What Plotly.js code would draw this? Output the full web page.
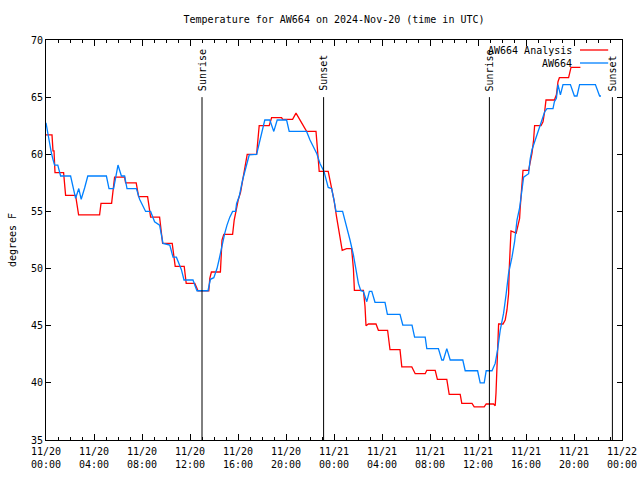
<!DOCTYPE html>
<html>
<head>
<meta charset="utf-8">
<script src="https://cdn.plot.ly/plotly-3.0.1.min.js"></script>
<style>html,body{margin:0;padding:0;background:#fff;}</style>
</head>
<body>
<div id="chart" style="width:640px;height:480px;"></div>
<script>
// ---- data ----
const redName = 'AW664 Analysis';
const redTime = [
'2024-11-20 00:00','2024-11-20 00:30','2024-11-20 00:35','2024-11-20 00:40','2024-11-20 00:45','2024-11-20 01:28',
'2024-11-20 01:38','2024-11-20 02:28','2024-11-20 02:43','2024-11-20 04:28','2024-11-20 04:35','2024-11-20 05:28',
'2024-11-20 05:43','2024-11-20 06:33','2024-11-20 06:38','2024-11-20 07:31','2024-11-20 07:43','2024-11-20 08:28',
'2024-11-20 08:43','2024-11-20 09:28','2024-11-20 09:43','2024-11-20 10:31','2024-11-20 10:46','2024-11-20 11:31',
'2024-11-20 11:41','2024-11-20 12:24','2024-11-20 12:40','2024-11-20 13:34','2024-11-20 13:39','2024-11-20 13:47',
'2024-11-20 14:32','2024-11-20 14:40','2024-11-20 14:49','2024-11-20 15:33','2024-11-20 15:41','2024-11-20 15:53',
'2024-11-20 16:01','2024-11-20 16:13','2024-11-20 16:34','2024-11-20 16:46','2024-11-20 17:33','2024-11-20 17:46',
'2024-11-20 18:36','2024-11-20 18:48','2024-11-20 19:38','2024-11-20 19:43','2024-11-20 20:33','2024-11-20 20:50',
'2024-11-20 21:43','2024-11-20 22:30','2024-11-20 22:36','2024-11-20 22:46','2024-11-20 23:31','2024-11-20 23:40',
'2024-11-20 23:48','2024-11-21 00:00','2024-11-21 00:13','2024-11-21 00:30','2024-11-21 00:41','2024-11-21 01:03',
'2024-11-21 01:28','2024-11-21 01:37','2024-11-21 01:42','2024-11-21 02:27','2024-11-21 02:35','2024-11-21 02:40',
'2024-11-21 02:52','2024-11-21 03:30','2024-11-21 03:42','2024-11-21 04:28','2024-11-21 04:40','2024-11-21 05:30',
'2024-11-21 05:39','2024-11-21 06:29','2024-11-21 06:46','2024-11-21 07:36','2024-11-21 07:44','2024-11-21 08:26',
'2024-11-21 08:37','2024-11-21 09:24','2024-11-21 09:36','2024-11-21 10:31','2024-11-21 10:39','2024-11-21 11:30',
'2024-11-21 11:41','2024-11-21 12:31','2024-11-21 12:41','2024-11-21 13:18','2024-11-21 13:26','2024-11-21 13:30',
'2024-11-21 13:35','2024-11-21 13:40','2024-11-21 13:43','2024-11-21 14:05','2024-11-21 14:16','2024-11-21 14:25',
'2024-11-21 14:33','2024-11-21 14:36','2024-11-21 14:41','2024-11-21 14:45','2024-11-21 15:11','2024-11-21 15:28',
'2024-11-21 15:31','2024-11-21 15:40','2024-11-21 15:45','2024-11-21 16:13','2024-11-21 16:30','2024-11-21 16:38',
'2024-11-21 16:43','2024-11-21 17:15','2024-11-21 17:25','2024-11-21 17:33','2024-11-21 17:40','2024-11-21 18:22',
'2024-11-21 18:32','2024-11-21 18:40','2024-11-21 18:47','2024-11-21 19:33','2024-11-21 19:38','2024-11-21 19:45',
'2024-11-21 20:32'
];
const redTemp = [
61.7,61.7,60.3,60.3,58.4,58.4,
56.4,56.4,54.7,54.7,55.7,55.7,
58.0,58.0,57.5,57.5,56.3,56.3,
54.5,54.5,52.2,52.2,50.2,50.2,
48.7,48.7,48.05,48.05,49.15,49.7,
49.7,52.5,53.0,53.0,54.25,55.4,
56.0,56.7,58.6,60.0,60.0,62.5,
62.5,63.2,63.2,63.05,63.05,63.6,
62.0,62.0,60.7,58.5,58.5,57.75,
57.2,56.0,54.5,52.9,51.6,51.75,
51.75,50.0,48.1,48.1,46.7,45.0,
45.15,45.15,44.6,44.6,42.9,42.9,
41.4,41.4,40.8,40.8,41.1,41.1,
40.3,40.3,39.0,39.0,38.2,38.2,
37.9,37.9,38.15,38.15,38.0,39.1,
41.6,44.0,45.15,45.15,45.5,46.4,
47.8,49.9,52.2,53.3,53.1,54.4,
55.3,57.75,58.6,58.6,60.1,61.25,
62.5,62.5,62.85,63.7,64.75,64.75,
65.2,66.35,66.7,66.7,67.1,67.6,
67.6
];

const blueName = 'AW664';
const blueTime = [
'2024-11-20 00:00','2024-11-20 00:09','2024-11-20 00:18','2024-11-20 00:26','2024-11-20 00:34','2024-11-20 00:43',
'2024-11-20 00:59','2024-11-20 01:08','2024-11-20 01:13','2024-11-20 02:03','2024-11-20 02:19','2024-11-20 02:28',
'2024-11-20 02:44','2024-11-20 02:56','2024-11-20 03:13','2024-11-20 03:29','2024-11-20 05:02','2024-11-20 05:15',
'2024-11-20 05:38','2024-11-20 05:55','2024-11-20 06:00','2024-11-20 06:17','2024-11-20 06:33','2024-11-20 06:45',
'2024-11-20 07:32','2024-11-20 07:48','2024-11-20 08:18','2024-11-20 08:43','2024-11-20 09:03','2024-11-20 09:28',
'2024-11-20 09:45','2024-11-20 10:19','2024-11-20 10:35','2024-11-20 10:52','2024-11-20 11:17','2024-11-20 11:30',
'2024-11-20 12:15','2024-11-20 12:27','2024-11-20 12:35','2024-11-20 13:30','2024-11-20 13:42','2024-11-20 13:59',
'2024-11-20 14:15','2024-11-20 14:25','2024-11-20 14:40','2024-11-20 14:54','2024-11-20 15:05','2024-11-20 15:19',
'2024-11-20 15:33','2024-11-20 15:48','2024-11-20 15:53','2024-11-20 16:06','2024-11-20 16:23','2024-11-20 16:56',
'2024-11-20 17:33','2024-11-20 17:49','2024-11-20 18:14','2024-11-20 18:39','2024-11-20 18:59','2024-11-20 19:16',
'2024-11-20 20:03','2024-11-20 20:16','2024-11-20 21:43','2024-11-20 22:00','2024-11-20 22:33','2024-11-20 22:50',
'2024-11-20 23:10','2024-11-20 23:31','2024-11-20 23:48','2024-11-21 00:00','2024-11-21 00:10','2024-11-21 00:43',
'2024-11-21 00:55','2024-11-21 01:20','2024-11-21 01:37','2024-11-21 01:49','2024-11-21 02:02','2024-11-21 02:14',
'2024-11-21 02:27','2024-11-21 02:44','2024-11-21 02:57','2024-11-21 03:09','2024-11-21 03:25','2024-11-21 04:15',
'2024-11-21 04:27','2024-11-21 05:30','2024-11-21 05:44','2024-11-21 06:30','2024-11-21 06:43','2024-11-21 07:36',
'2024-11-21 07:44','2024-11-21 08:42','2024-11-21 08:59','2024-11-21 09:07','2024-11-21 09:24','2024-11-21 09:41',
'2024-11-21 10:44','2024-11-21 10:56','2024-11-21 11:58','2024-11-21 12:11','2024-11-21 12:31','2024-11-21 12:41',
'2024-11-21 13:10','2024-11-21 13:26','2024-11-21 13:38','2024-11-21 13:51','2024-11-21 14:08','2024-11-21 14:21',
'2024-11-21 14:33','2024-11-21 14:50','2024-11-21 15:03','2024-11-21 15:15','2024-11-21 15:28','2024-11-21 15:40',
'2024-11-21 15:48','2024-11-21 16:13','2024-11-21 16:21','2024-11-21 16:30','2024-11-21 16:46','2024-11-21 17:03',
'2024-11-21 17:20','2024-11-21 17:33','2024-11-21 17:45','2024-11-21 18:15','2024-11-21 18:22','2024-11-21 18:32',
'2024-11-21 18:40','2024-11-21 18:52','2024-11-21 19:05','2024-11-21 19:42','2024-11-21 20:02','2024-11-21 20:15',
'2024-11-21 20:28','2024-11-21 21:47','2024-11-21 22:08','2024-11-21 22:15'
];
const blueTemp = [
62.75,61.8,61.0,60.2,59.6,59.06,
59.06,58.5,58.1,58.1,56.9,56.15,
57.0,56.06,57.05,58.1,58.1,57.0,
57.0,58.6,59.06,58.1,58.1,57.0,
57.0,56.06,55.0,55.0,54.1,53.8,
52.2,52.06,51.0,51.0,49.9,49.0,
49.0,48.4,48.06,48.06,49.06,49.2,
50.0,50.75,52.06,53.1,53.8,54.5,
55.0,55.0,55.7,56.3,57.75,59.94,
60.0,61.25,63.0,63.0,62.0,63.0,
63.0,62.0,62.0,61.25,60.1,59.2,
58.5,57.1,57.0,56.0,55.0,55.0,
54.25,52.5,51.2,49.9,48.7,48.06,
48.0,47.1,48.0,48.0,47.05,47.05,
46.0,46.0,45.06,45.06,44.0,44.0,
43.0,43.0,42.0,42.0,43.0,42.0,
42.0,41.06,41.06,40.0,40.0,41.06,
41.06,41.7,42.9,44.6,46.1,47.8,
49.6,51.0,52.35,54.25,55.3,56.9,
58.0,58.3,59.6,60.4,61.25,62.1,
62.85,63.7,64.0,64.0,64.6,64.9,
66.1,65.2,66.1,66.1,65.1,65.1,
66.1,66.1,65.1,65.1
];

const sunTimes = ['2024-11-20 13:00','2024-11-20 23:08','2024-11-21 12:57','2024-11-21 23:12'];
const sunLabels = ['Sunrise','Sunset','Sunrise','Sunset'];
const sunLineTop = 65;

const xStart = '2024-11-20 00:00';
const xEnd = '2024-11-22 00:00';
const yMin = 35, yMax = 70;
const chartTitle = 'Temperature for AW664 on 2024-Nov-20 (time in UTC)';
const yTitle = 'degrees F';

// ---- style ----
const FONT = 'DejaVu Sans Mono, Liberation Mono, monospace';
const RED = '#ff0000';
const BLUE = '#0080ff';

const traces = [
  {x: redTime, y: redTemp, name: redName, type: 'scatter', mode: 'lines',
   line: {color: RED, width: 1.3}},
  {x: blueTime, y: blueTemp, name: blueName, type: 'scatter', mode: 'lines',
   line: {color: BLUE, width: 1.3}}
];

const shapes = sunTimes.map(t => ({
  type: 'line', xref: 'x', yref: 'y', x0: t, x1: t, y0: yMin, y1: sunLineTop,
  line: {color: 'black', width: 1}
}));

const annotations = sunTimes.map((t, i) => ({
  x: t, y: sunLineTop, xref: 'x', yref: 'y', text: sunLabels[i], showarrow: false,
  textangle: -90, xanchor: 'center', yanchor: 'bottom', yshift: 4,
  font: {family: FONT, size: 10, color: 'black'}
}));

// gnuplot-style legend: text on the left, line sample on the right
const legendItems = [{name: redName, color: RED}, {name: blueName, color: BLUE}];
const legY = [0.975, 0.9425];
legendItems.forEach((it, i) => {
  annotations.push({
    xref: 'paper', yref: 'paper', x: 0.917, y: legY[i], text: it.name, showarrow: false,
    xanchor: 'right', yanchor: 'middle', font: {family: FONT, size: 10, color: 'black'}
  });
  shapes.push({
    type: 'line', xref: 'paper', yref: 'paper', x0: 0.927, x1: 0.976, y0: legY[i], y1: legY[i],
    line: {color: it.color, width: 1.3}
  });
});

const layout = {
  width: 640, height: 480,
  margin: {l: 46, r: 18, t: 40, b: 40},
  paper_bgcolor: 'white', plot_bgcolor: 'white',
  showlegend: false,
  font: {family: FONT, size: 10, color: 'black'},
  title: {text: chartTitle, font: {family: FONT, size: 10, color: 'black'},
          x: 0.5, xref: 'paper', xanchor: 'center', y: 1 - 19/480, yref: 'container', yanchor: 'middle'},
  xaxis: {
    type: 'date', range: [xStart, xEnd], tick0: xStart, dtick: 4*3600000,
    tickformat: '%m/%d<br>%H:%M', ticks: 'inside', ticklen: 6, tickcolor: 'black',
    ticklabelstandoff: 2,
    showline: true, linecolor: 'black', linewidth: 1, mirror: 'allticks',
    showgrid: false, zeroline: false, tickfont: {family: FONT, size: 10, color: 'black'},
    minor: {dtick: 3600000, tick0: xStart, ticks: 'inside', ticklen: 3, tickcolor: 'black', showgrid: false}
  },
  yaxis: {
    range: [yMin, yMax], tick0: yMin, dtick: 5, ticks: 'inside', ticklen: 5, tickcolor: 'black',
    showline: true, linecolor: 'black', linewidth: 1, mirror: 'allticks',
    showgrid: false, zeroline: false, tickfont: {family: FONT, size: 10, color: 'black'},
    title: {text: yTitle, font: {family: FONT, size: 10, color: 'black'}, standoff: 12}
  },
  shapes: shapes,
  annotations: annotations
};

Plotly.newPlot('chart', traces, layout, {displayModeBar: false, staticPlot: true});
</script>
</body>
</html>
